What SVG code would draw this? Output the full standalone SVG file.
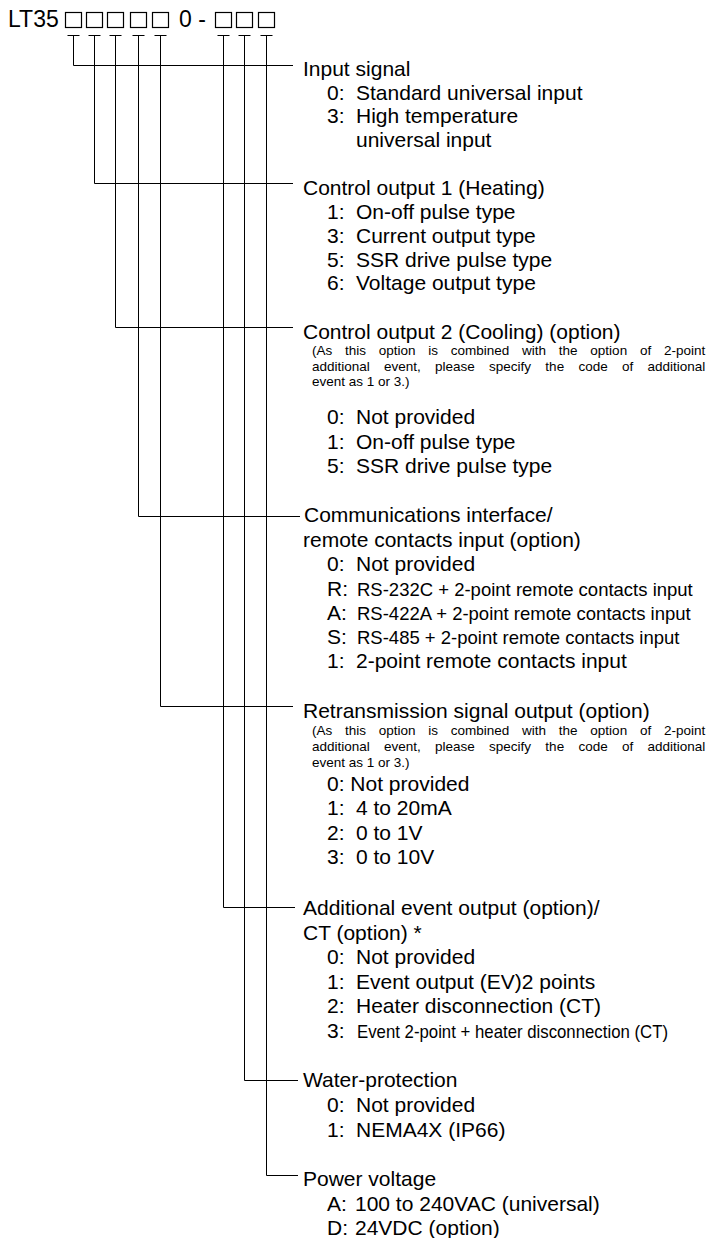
<svg xmlns="http://www.w3.org/2000/svg" width="710" height="1238" viewBox="0 0 710 1238">
<style>
text{font-family:"Liberation Sans",Arial,sans-serif;fill:#000}
.h{font-size:21px}
.c{font-size:21px}
.t{font-size:23px}
.n{font-size:13.5px}
.r{font-size:18.5px}
.ln{stroke:#000;stroke-width:1;fill:none}
.box{stroke:#000;stroke-width:1.2;fill:none}
</style>
<rect width="710" height="1238" fill="#fff"/>
<g id="code">
<text class="t" x="8" y="27">LT35</text>
<rect class="box" x="65.5" y="12.5" width="16" height="15"/>
<rect class="box" x="86.5" y="12.5" width="16" height="15"/>
<rect class="box" x="107.5" y="12.5" width="16" height="15"/>
<rect class="box" x="130.5" y="12.5" width="16" height="15"/>
<rect class="box" x="152.5" y="12.5" width="16" height="15"/>
<text class="t" x="179" y="27">0 -</text>
<rect class="box" x="215.5" y="12.5" width="16" height="15"/>
<rect class="box" x="236.5" y="12.5" width="16" height="15"/>
<rect class="box" x="258.5" y="12.5" width="16" height="15"/>
</g>
<g id="connectors" class="ln">
<path d="M67.5,35.5H79.5M88.5,35.5H100.5M109.5,35.5H121.5M132.5,35.5H144.5M154.5,35.5H166.5M217.5,35.5H229.5M238.5,35.5H250.5M260.5,35.5H272.5"/>
<path d="M73.5,35.5V65.5H293"/>
<path d="M94.5,35.5V183.5H293"/>
<path d="M115.5,35.5V327.5H293"/>
<path d="M138.5,35.5V516.5H300"/>
<path d="M160.5,35.5V706.5H293"/>
<path d="M223.5,35.5V907.5H295"/>
<path d="M244.5,35.5V1080.5H298"/>
<path d="M266.5,35.5V1175.5H298"/>
</g>
<g id="input-signal">
<text class="h" x="303" y="76">Input signal</text>
<text class="c" x="327" y="99.5">0:</text><text class="c" x="356" y="99.5">Standard universal input</text>
<text class="c" x="327" y="123">3:</text><text class="c" x="356" y="123">High temperature</text>
<text class="c" x="356" y="146.5">universal input</text>
</g>
<g id="control-output-1">
<text class="h" x="303" y="195">Control output 1 (Heating)</text>
<text class="c" x="327" y="219">1:</text><text class="c" x="356" y="219">On-off pulse type</text>
<text class="c" x="327" y="242.5">3:</text><text class="c" x="356" y="242.5">Current output type</text>
<text class="c" x="327" y="266.5">5:</text><text class="c" x="356" y="266.5">SSR drive pulse type</text>
<text class="c" x="327" y="290">6:</text><text class="c" x="356" y="290">Voltage output type</text>
</g>
<g id="control-output-2">
<text class="h" x="303" y="338.5">Control output 2 (Cooling) (option)</text>
<text class="n" x="312" y="355" word-spacing="9">(As this option is combined with the option of 2-point</text>
<text class="n" x="312" y="370.5" word-spacing="10.5">additional event, please specify the code of additional</text>
<text class="n" x="312" y="386">event as 1 or 3.)</text>
<text class="c" x="327" y="424">0:</text><text class="c" x="356" y="424">Not provided</text>
<text class="c" x="327" y="448.5">1:</text><text class="c" x="356" y="448.5">On-off pulse type</text>
<text class="c" x="327" y="473">5:</text><text class="c" x="356" y="473">SSR drive pulse type</text>
</g>
<g id="communications">
<text class="h" x="304" y="522">Communications interface/</text>
<text class="h" x="303" y="546.5">remote contacts input (option)</text>
<text class="c" x="327" y="571">0:</text><text class="c" x="356" y="571">Not provided</text>
<text class="c" x="327" y="595.5">R:</text><text class="r" x="357" y="595.5">RS-232C + 2-point remote contacts input</text>
<text class="c" x="327" y="620">A:</text><text class="r" x="357" y="620">RS-422A + 2-point remote contacts input</text>
<text class="c" x="327" y="644">S:</text><text class="r" x="357" y="644">RS-485 + 2-point remote contacts input</text>
<text class="c" x="327" y="668">1:</text><text class="c" x="356" y="668">2-point remote contacts input</text>
</g>
<g id="retransmission">
<text class="h" x="303" y="718">Retransmission signal output (option)</text>
<text class="n" x="312" y="735" word-spacing="9">(As this option is combined with the option of 2-point</text>
<text class="n" x="312" y="751" word-spacing="10.5">additional event, please specify the code of additional</text>
<text class="n" x="312" y="766.5">event as 1 or 3.)</text>
<text class="c" x="327" y="791">0: Not provided</text>
<text class="c" x="327" y="815">1:</text><text class="c" x="356" y="815">4 to 20mA</text>
<text class="c" x="327" y="839.5">2:</text><text class="c" x="356" y="839.5">0 to 1V</text>
<text class="c" x="327" y="863.5">3:</text><text class="c" x="356" y="863.5">0 to 10V</text>
</g>
<g id="additional-event">
<text class="h" x="303" y="915">Additional event output (option)/</text>
<text class="h" x="303" y="939.5">CT (option) *</text>
<text class="c" x="327" y="964">0:</text><text class="c" x="356" y="964">Not provided</text>
<text class="c" x="327" y="988.5">1:</text><text class="c" x="356" y="988.5">Event output (EV)2 points</text>
<text class="c" x="327" y="1013">2:</text><text class="c" x="356" y="1013">Heater disconnection (CT)</text>
<text class="c" x="327" y="1038">3:</text><text class="c" x="357" y="1038" textLength="311" lengthAdjust="spacingAndGlyphs" style="font-size:19px">Event 2-point + heater disconnection (CT)</text>
</g>
<g id="water-protection">
<text class="h" x="303" y="1087">Water-protection</text>
<text class="c" x="327" y="1111.5">0:</text><text class="c" x="356" y="1111.5">Not provided</text>
<text class="c" x="327" y="1136.5">1:</text><text class="c" x="356" y="1136.5">NEMA4X (IP66)</text>
</g>
<g id="power-voltage">
<text class="h" x="303" y="1186">Power voltage</text>
<text class="c" x="327" y="1210.5">A:</text><text class="c" x="355" y="1210.5">100 to 240VAC (universal)</text>
<text class="c" x="327" y="1235">D:</text><text class="c" x="355" y="1235">24VDC (option)</text>
</g>
</svg>
